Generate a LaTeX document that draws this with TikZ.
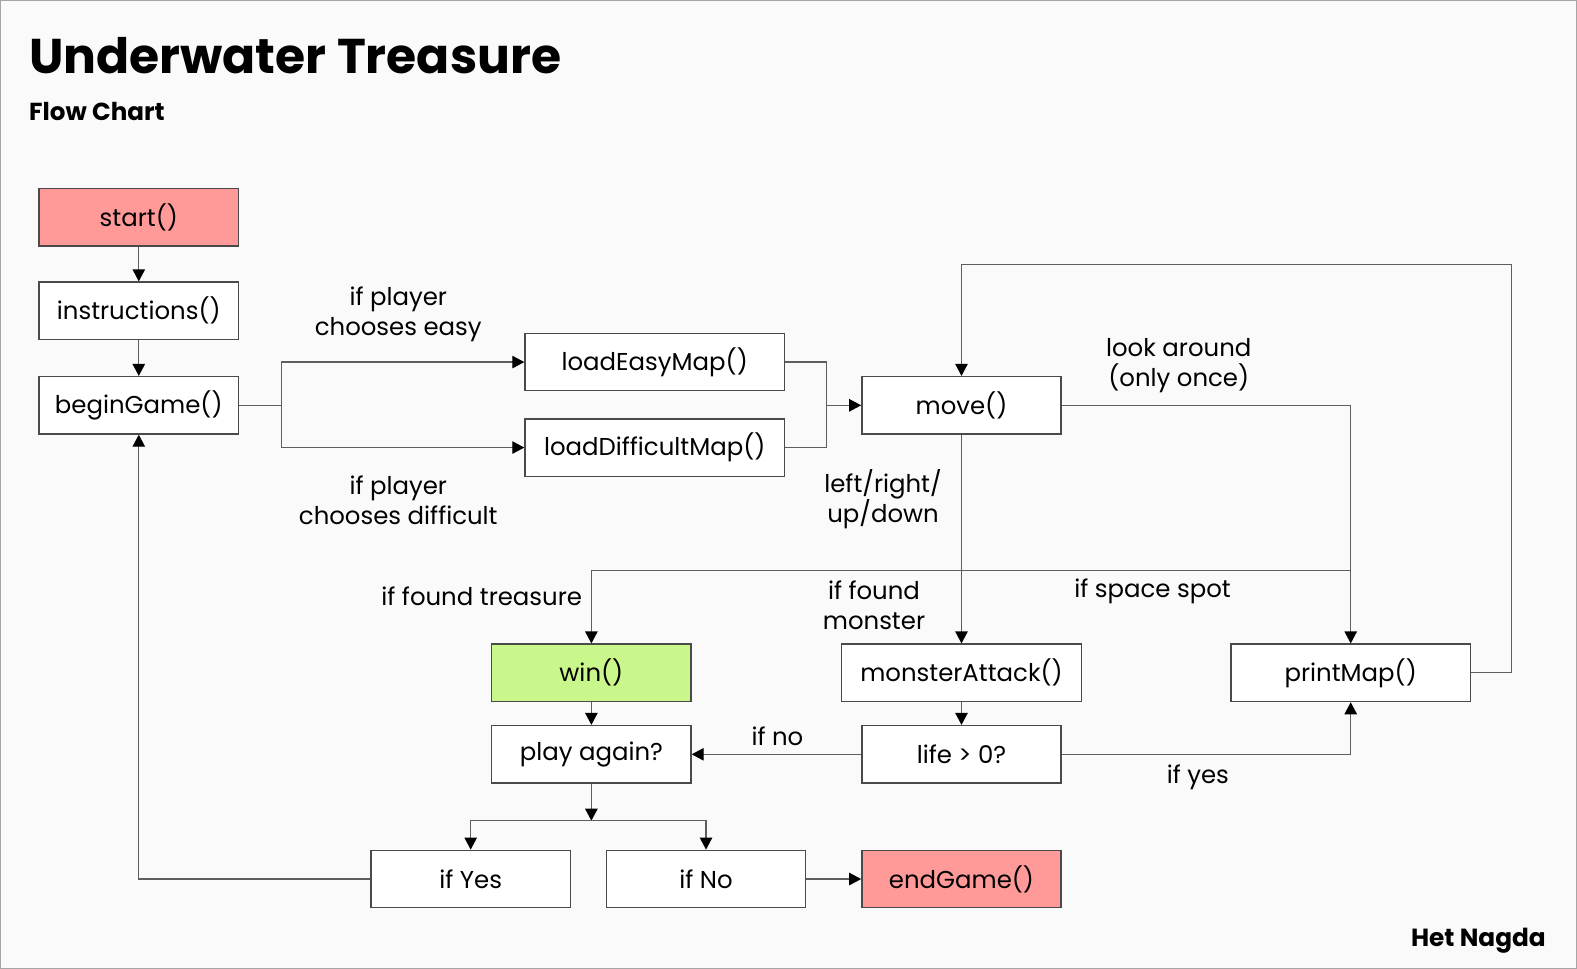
\documentclass[tikz,border=0pt]{standalone}
\usepackage{fontspec}
\setmainfont{Poppins}
\usepackage{tikz}
\usetikzlibrary{arrows.meta, positioning, calc}
\definecolor{bgpaper}{HTML}{FAFAFA}
\definecolor{edge}{HTML}{4A4A4A}
\definecolor{wire}{HTML}{5E5E5E}
\definecolor{alert}{HTML}{FF9A98}
\definecolor{goal}{HTML}{C9F78B}

\begin{document}
\begin{tikzpicture}[x=0.50285pt, y=-0.50285pt,
    box/.style={rectangle, draw=edge, fill=#1, line width=0.7pt,
                minimum width=99.6pt, minimum height=28.7pt, inner sep=0pt,
                font=\fontsize{12.2}{14}\selectfont},
    box/.default=white,
    wide/.style={minimum width=119.7pt},
    wider/.style={minimum width=129.7pt},
    lbl/.style={align=center, font=\fontsize{12.2}{15}\selectfont},
    line/.style={draw=wire, line width=0.65pt},
    arr/.style={line, -{Triangle[length=6pt, width=6.2pt, color=black]}}
]
% page
\useasboundingbox (0,0) rectangle (1568,963);
\fill[bgpaper] (0,0) rectangle (1568,963);
\draw[gray!70, line width=1pt] (0,0) rectangle (1568,963);

% titles
\node[anchor=west, font=\fontsize{24.4}{28}\selectfont\bfseries] (title) at (22,55) {Underwater Treasure};
\node[anchor=west, font=\fontsize{12.3}{15}\selectfont\bfseries] (subtitle) at (22,111) {Flow Chart};
\node[anchor=east, font=\fontsize{12.4}{15}\selectfont\bfseries] (author) at (1544,935) {Het Nagda};

% boxes
\node[box=alert] (start) at (138,216) {start()};
\node[box] (instr) at (138,309) {instructions()};
\node[box] (begin) at (138,403) {beginGame()};
\node[box, wider] (easy) at (651,360) {loadEasyMap()};
\node[box, wider] (hard) at (651,445) {loadDifficultMap()};
\node[box] (move) at (956,403) {move()};
\node[box=goal] (win) at (588,669) {win()};
\node[box, wide] (monster) at (956,669) {monsterAttack()};
\node[box, wide] (print) at (1343,669) {printMap()};
\node[box] (again) at (588,750) {play again?};
\node[box] (life) at (956,750) {life > 0?};
\node[box] (yes) at (468,874) {if Yes};
\node[box] (no) at (702,874) {if No};
\node[box=alert] (end) at (956,874) {endGame()};

% junctions
\coordinate (fork1) at (280,403);
\coordinate (join1) at (822,403);
\coordinate (fork2) at (956,567);
\coordinate (join2) at (1343,567);
\coordinate (loop) at (1503,263);
\coordinate (fork3) at (588,816);

% connectors
\draw[arr] (start) -- (instr);
\draw[arr] (instr) -- (begin);
\draw[line] (begin.east) -- (fork1);
\draw[arr] (fork1) |- (easy.west);
\draw[arr] (fork1) |- (hard.west);
\draw[line] (easy.east) -| (join1);
\draw[line] (hard.east) -| (join1);
\draw[arr] (join1) -- (move.west);
\draw[arr] (move) -- (monster);
\draw[arr] (fork2) -| (win.north);
\draw[line] (fork2) -- (join2);
\draw[arr] (move.east) -| (print.north);
\draw[arr] (print.east) -| (loop) -| (move.north);
\draw[arr] (monster) -- (life);
\draw[arr] (life) -- (again);
\draw[arr] (life.east) -| (print.south);
\draw[arr] (win) -- (again);
\draw[arr] (again) -- (fork3);
\draw[arr] (fork3) -| (yes.north);
\draw[arr] (fork3) -| (no.north);
\draw[arr] (no) -- (end);
\draw[arr] (yes.west) -| (begin.south);

% labels
\node[lbl] (lEasy) at (396,313) {if player\\chooses easy};
\node[lbl] (lHard) at (396,497) {if player\\chooses difficult};
\node[lbl] (lLook) at (1172,364) {look around\\(only once)};
\node[lbl] (lDir) at (878,496) {left/right/\\up/down};
\node[lbl] (lTreasure) at (479,593) {if found treasure};
\node[lbl] (lMonster) at (869,602) {if found\\monster};
\node[lbl] (lSpace) at (1146,588) {if space spot};
\node[lbl] (lNo) at (773,732) {if no};
\node[lbl] (lYes) at (1191,773) {if yes};
\end{tikzpicture}
\end{document}
